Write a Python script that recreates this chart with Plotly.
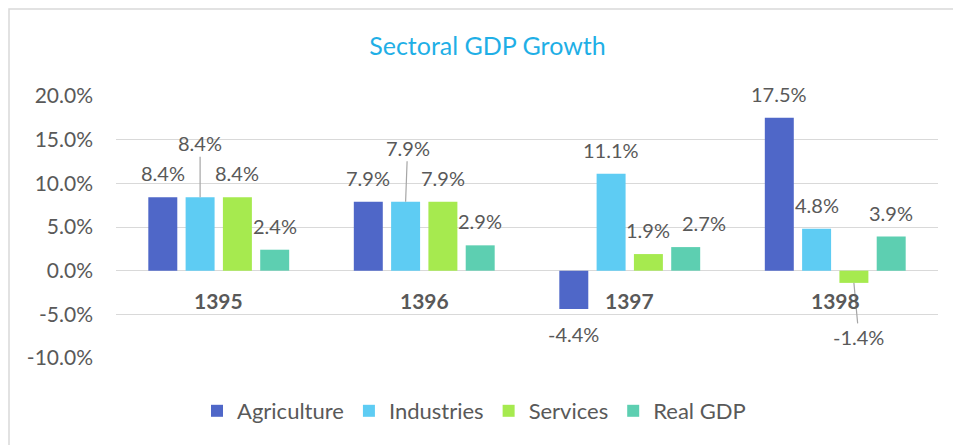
import plotly.graph_objects as go

# Annual sectoral growth rates (percent)
years = ["1395", "1396", "1397", "1398"]
agriculture = [8.4, 7.9, -4.4, 17.5]
industries = [8.4, 7.9, 11.1, 4.8]
services = [8.4, 7.9, 1.9, -1.4]
real_gdp = [2.4, 2.9, 2.7, 3.9]

series_names = ["Agriculture", "Industries", "Services", "Real GDP"]
series_values = [agriculture, industries, services, real_gdp]
series_colors = ["#4F67C8", "#5ECCF3", "#A6EA4F", "#5DCFB1"]

y_ticks = [-10, -5, 0, 5, 10, 15, 20]

W, H = 953, 445
M_L, M_R, M_T, M_B = 116, 15, 96, 87
BARGAP, BARGROUPGAP = 0.274, 0.223
FONT = "Lato"
GREY = "#595959"

fig = go.Figure()
for name, vals, col in zip(series_names, series_values, series_colors):
    fig.add_trace(go.Bar(
        name=name, x=years, y=vals,
        marker=dict(color=col, line=dict(width=0)),
        hoverinfo="x+y+name",
    ))

# pixel pitch between bars inside one year group
plot_w = W - M_L - M_R
cat_w = plot_w / len(years)
pitch = cat_w * (1 - BARGAP) / len(series_names)

# labels pulled away from their bar with a leader line: (series, year) -> (dx, dy)
leader = {
    (1, 0): (0, -54),
    (1, 1): (2, -54),
    (2, 3): (5, 54),
}
# labels nudged sideways to keep clear of a neighbour: (series, year) -> dx
nudge = {
    (3, 2): 18,
}

# on a category axis, annotation x is given as the category's position index
annotations = []
for si, vals in enumerate(series_values):
    xshift = (si - (len(series_names) - 1) / 2) * pitch
    for yi, v in enumerate(vals):
        txt = f"{v:.1f}%"
        if (si, yi) in leader:
            dx, dy = leader[(si, yi)]
            annotations.append(dict(
                x=yi, y=v, xref="x", yref="y", xshift=xshift,
                text=txt, showarrow=True, arrowhead=0, arrowwidth=1.2,
                arrowcolor="#A6A6A6", ax=dx, ay=dy, standoff=0,
                font=dict(family=FONT, size=20, color=GREY),
            ))
        else:
            annotations.append(dict(
                x=yi, y=v, xref="x", yref="y",
                xshift=xshift + nudge.get((si, yi), 0),
                yshift=24 if v >= 0 else -25, yanchor="middle",
                text=txt, showarrow=False,
                font=dict(family=FONT, size=20, color=GREY),
            ))

# year labels sitting just below the zero line
for yi, yr in enumerate(years):
    annotations.append(dict(
        x=yi, y=0, xref="x", yref="y", yshift=-30, yanchor="middle",
        text=f"<b>{yr}</b>", showarrow=False,
        font=dict(family=FONT, size=21, color=GREY),
    ))

plot_h = H - M_T - M_B
def px_to_paper_x(px):
    return (px - M_L) / plot_w
def px_to_paper_y(py):
    return (H - M_B - py) / plot_h

fig.update_layout(
    width=W, height=H,
    margin=dict(l=M_L, r=M_R, t=M_T, b=M_B),
    paper_bgcolor="white", plot_bgcolor="white",
    barmode="group", bargap=BARGAP, bargroupgap=BARGROUPGAP,
    title=dict(
        text="Sectoral GDP Growth", x=px_to_paper_x(487.5), xref="paper",
        xanchor="center", y=1 - 46 / H, yanchor="middle",
        font=dict(family=FONT, size=25, color="#1FAFE6"),
    ),
    xaxis=dict(type="category", categoryorder="array", categoryarray=years,
               range=[-0.5, len(years) - 0.5],
               showticklabels=False, showgrid=False, zeroline=False,
               showline=False, ticks=""),
    yaxis=dict(
        range=[-10, 20], tickvals=y_ticks,
        ticktext=[f"{t:.1f}%" for t in y_ticks],
        showgrid=True, gridcolor="#D9D9D9", gridwidth=1.3,
        zeroline=True, zerolinecolor="#D9D9D9", zerolinewidth=1.3,
        showline=False, ticks="", ticklabelstandoff=22,
        tickfont=dict(family=FONT, size=21, color=GREY),
    ),
    legend=dict(
        orientation="h", x=px_to_paper_x(474), xanchor="center",
        y=px_to_paper_y(411), yanchor="middle",
        font=dict(family=FONT, size=22, color=GREY),
        itemwidth=30, traceorder="normal",
    ),
    annotations=annotations,
    shapes=[dict(
        type="rect", xref="paper", yref="paper",
        x0=px_to_paper_x(9), x1=px_to_paper_x(W + 20),
        y0=px_to_paper_y(H + 20), y1=px_to_paper_y(9),
        line=dict(color="#D9D9D9", width=1.5), fillcolor="rgba(0,0,0,0)",
        layer="below",
    )],
    showlegend=True,
)

fig.write_html("out.html")
